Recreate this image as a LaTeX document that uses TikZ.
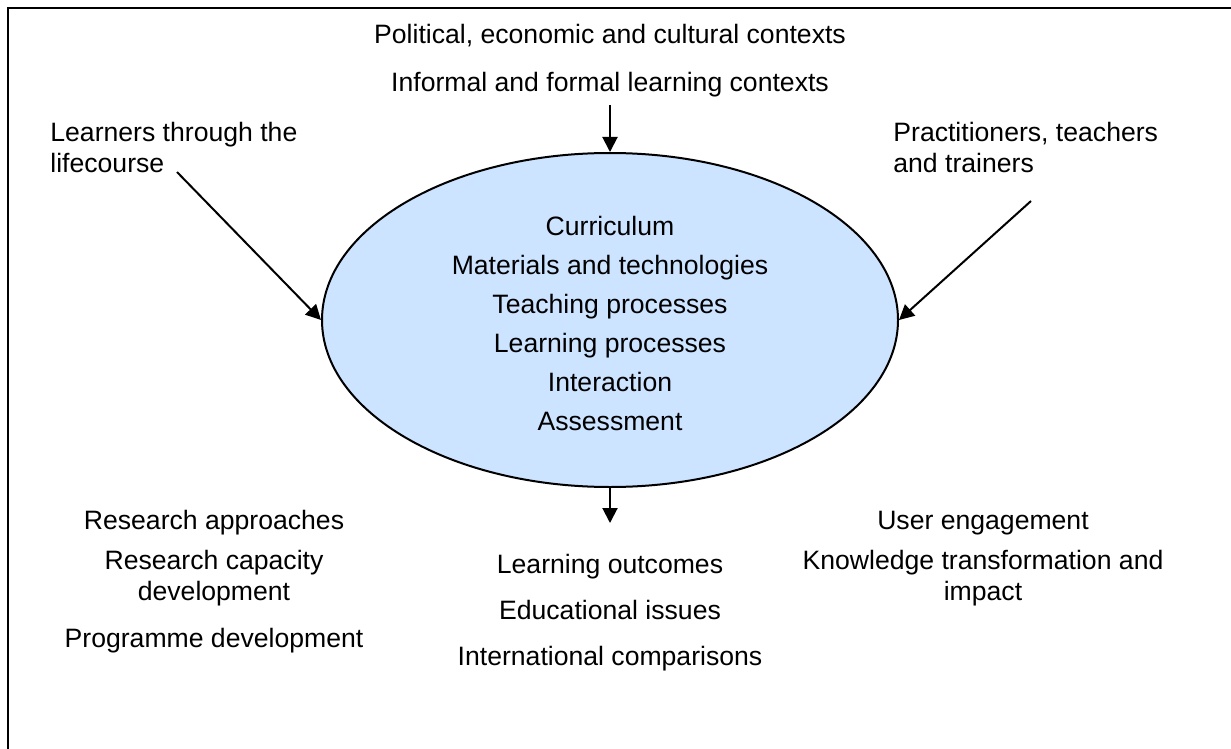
\documentclass[tikz,border=0pt]{standalone}
\usepackage{fontspec}
\setmainfont{Liberation Sans}
\usetikzlibrary{positioning,shapes.geometric,arrows.meta}
\definecolor{ovalblue}{RGB}{204,228,255}
\newcommand{\lbl}{\fontsize{13.3}{15.5}\selectfont}

\begin{document}
\begin{tikzpicture}[x=0.5pt,y=-0.5pt,auto]
    \tikzstyle{every node}=[inner sep=0,font=\lbl]
    \tikzstyle{note}=[anchor=base,align=center]
    \tikzstyle{side}=[anchor=base west,align=left]
    \tikzstyle{oval}=[ellipse,draw,line width=1pt,fill=ovalblue,minimum width=288pt,minimum height=167pt]
    \tikzstyle{push}=[-{Triangle[length=7.5pt,width=7.5pt]},line width=1pt]
    {
        \useasboundingbox (0,0) rectangle (1231,749);
        \draw[line width=1.3pt] (8,760) -- (8,8) -- (1240,8);

        \node[oval] (core) at (610,320) {};

        % contexts above
        \node[note] (political) at (610,44) {Political, economic and cultural contexts};
        \node[note] (informal) at (610,91) {Informal and formal learning contexts};

        % people on both sides (base = last line)
        \node[side] (learners) at (50,172) {Learners through the\\lifecourse};
        \node[side] (practitioners) at (893,172) {Practitioners, teachers\\and trainers};

        % inside the oval
        \node[note] (curriculum) at (610,235) {Curriculum};
        \node[note] (materials) at (610,274) {Materials and technologies};
        \node[note] (teaching) at (610,313) {Teaching processes};
        \node[note] (learning) at (610,352) {Learning processes};
        \node[note] (interaction) at (610,391) {Interaction};
        \node[note] (assessment) at (610,430) {Assessment};

        % research, left
        \node[note] (approaches) at (214,529) {Research approaches};
        \node[note] (capacity) at (214,600) {Research capacity\\development};
        \node[note] (programme) at (214,647) {Programme development};

        % outcomes, below
        \node[note] (outcomes) at (610,573) {Learning outcomes};
        \node[note] (issues) at (610,619) {Educational issues};
        \node[note] (comparisons) at (610,665) {International comparisons};

        % users, right
        \node[note] (engagement) at (983,529) {User engagement};
        \node[note] (knowledge) at (983,600) {Knowledge transformation and\\impact};

        \coordinate (ctxin) at (610,105);
        \coordinate (lrnin) at (177,172);
        \coordinate (prcin) at (1031,201);
        \coordinate (outend) at (610,523);

        \draw[push] (ctxin) -- (core.north);
        \draw[push] (lrnin) -- (core.west);
        \draw[push] (prcin) -- (core.east);
        \draw[push] (core.south) -- (outend);
    }
\end{tikzpicture}
\end{document}
